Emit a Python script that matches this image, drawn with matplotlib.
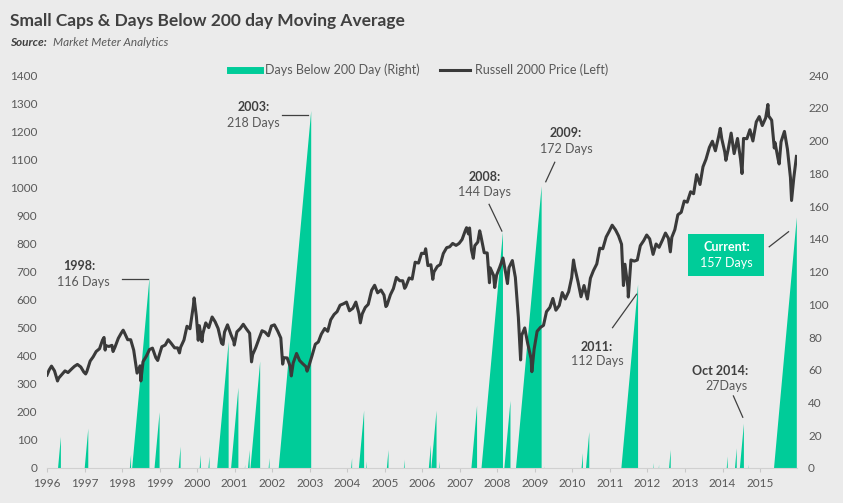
import matplotlib.pyplot as plt
from matplotlib.lines import Line2D

plt.rcParams['font.family'] = ['Lato', 'DejaVu Sans']

# Russell 2000 price (left axis), decimal year -> index level
price_dates = [
    1996.27, 1996.33, 1996.39, 1996.47, 1996.55, 1996.58, 1996.67, 1996.75, 1996.83, 1996.92,
    1997.00, 1997.08, 1997.17, 1997.25, 1997.30, 1997.33, 1997.42, 1997.50, 1997.58, 1997.67,
    1997.75, 1997.79, 1997.82, 1997.83, 1997.92, 1998.00, 1998.03, 1998.08, 1998.17, 1998.25,
    1998.30, 1998.33, 1998.42, 1998.50, 1998.58, 1998.67, 1998.75, 1998.77, 1998.83, 1998.92,
    1999.00, 1999.08, 1999.17, 1999.22, 1999.25, 1999.33, 1999.42, 1999.50, 1999.58, 1999.67,
    1999.75, 1999.80, 1999.83, 1999.92, 2000.00, 2000.08, 2000.17, 2000.19, 2000.25, 2000.30,
    2000.33, 2000.40, 2000.42, 2000.50, 2000.58, 2000.67, 2000.75, 2000.83, 2000.92, 2000.96,
    2001.00, 2001.08, 2001.17, 2001.25, 2001.26, 2001.33, 2001.42, 2001.50, 2001.58, 2001.67,
    2001.72, 2001.75, 2001.83, 2001.92, 2002.00, 2002.08, 2002.17, 2002.25, 2002.33, 2002.42,
    2002.50, 2002.55, 2002.58, 2002.67, 2002.75, 2002.78, 2002.83, 2002.92, 2003.00, 2003.08,
    2003.17, 2003.20, 2003.25, 2003.33, 2003.42, 2003.50, 2003.58, 2003.67, 2003.75, 2003.83,
    2003.92, 2004.00, 2004.08, 2004.17, 2004.25, 2004.33, 2004.42, 2004.50, 2004.58, 2004.62,
    2004.67, 2004.75, 2004.83, 2004.92, 2005.00, 2005.08, 2005.17, 2005.25, 2005.30, 2005.33,
    2005.42, 2005.50, 2005.58, 2005.67, 2005.75, 2005.80, 2005.83, 2005.92, 2006.00, 2006.08,
    2006.17, 2006.25, 2006.33, 2006.36, 2006.42, 2006.50, 2006.55, 2006.58, 2006.67, 2006.75,
    2006.83, 2006.92, 2007.00, 2007.08, 2007.17, 2007.25, 2007.33, 2007.42, 2007.45, 2007.50,
    2007.53, 2007.58, 2007.63, 2007.67, 2007.75, 2007.80, 2007.83, 2007.92, 2008.00, 2008.06,
    2008.08, 2008.17, 2008.20, 2008.25, 2008.33, 2008.42, 2008.50, 2008.54, 2008.58, 2008.67,
    2008.75, 2008.83, 2008.89, 2008.92, 2009.00, 2009.08, 2009.17, 2009.19, 2009.25, 2009.33,
    2009.42, 2009.50, 2009.58, 2009.67, 2009.75, 2009.83, 2009.92, 2010.00, 2010.08, 2010.17,
    2010.25, 2010.30, 2010.33, 2010.42, 2010.50, 2010.58, 2010.67, 2010.75, 2010.83, 2010.92,
    2011.00, 2011.08, 2011.17, 2011.25, 2011.33, 2011.42, 2011.50, 2011.58, 2011.63, 2011.67,
    2011.75, 2011.76, 2011.83, 2011.92, 2012.00, 2012.08, 2012.17, 2012.25, 2012.33, 2012.42,
    2012.50, 2012.58, 2012.67, 2012.75, 2012.83, 2012.88, 2012.92, 2013.00, 2013.08, 2013.17,
    2013.25, 2013.33, 2013.42, 2013.50, 2013.58, 2013.67, 2013.75, 2013.83, 2013.92, 2014.00,
    2014.08, 2014.17, 2014.21, 2014.25, 2014.33, 2014.36, 2014.42, 2014.50, 2014.58, 2014.67,
    2014.75, 2014.79, 2014.83, 2014.92, 2015.00, 2015.08, 2015.17, 2015.25, 2015.33, 2015.42,
    2015.48, 2015.50, 2015.58, 2015.65, 2015.67, 2015.75, 2015.78, 2015.83, 2015.92, 2016.00,
    2016.08, 2016.11, 2016.17, 2016.24,
]
price_values = [
    331, 350, 363, 346, 310, 320, 334, 346, 340, 352,
    362, 369, 360, 342, 335, 343, 381, 396, 415, 425,
    456, 465, 420, 436, 433, 437, 415, 430, 462, 481,
    491, 483, 457, 457, 420, 338, 364, 310, 379, 399,
    422, 427, 393, 383, 397, 432, 438, 457, 444, 428,
    428, 410, 430, 456, 505, 496, 578, 606, 540, 455,
    507, 450, 477, 517, 500, 538, 521, 497, 445, 440,
    484, 510, 476, 450, 438, 485, 497, 512, 496, 480,
    378, 404, 428, 461, 489, 484, 471, 506, 510, 487,
    463, 370, 393, 392, 362, 328, 374, 408, 383, 372,
    361, 345, 364, 399, 441, 449, 477, 497, 487, 528,
    547, 557, 580, 585, 591, 560, 569, 591, 552, 517,
    549, 572, 583, 633, 651, 624, 634, 616, 575, 580,
    617, 639, 679, 667, 667, 640, 646, 677, 673, 733,
    730, 765, 764, 781, 721, 724, 672, 698, 718, 725,
    764, 785, 788, 800, 793, 800, 814, 847, 856, 834,
    855, 777, 747, 792, 805, 845, 828, 767, 766, 660,
    713, 686, 643, 687, 714, 748, 689, 657, 714, 739,
    679, 537, 385, 473, 499, 443, 389, 343, 423, 487,
    501, 508, 557, 572, 604, 562, 579, 625, 602, 628,
    678, 741, 716, 663, 610, 650, 602, 676, 703, 727,
    783, 781, 823, 843, 865, 848, 827, 797, 650, 726,
    644, 609, 741, 737, 741, 792, 810, 830, 816, 761,
    798, 786, 812, 837, 818, 770, 822, 849, 902, 911,
    951, 947, 984, 977, 1045, 1010, 1073, 1100, 1142, 1164,
    1130, 1183, 1210, 1173, 1126, 1096, 1134, 1193, 1120, 1174,
    1101, 1049, 1174, 1173, 1205, 1165, 1233, 1252, 1220, 1247,
    1295, 1254, 1239, 1140, 1159, 1101, 1083, 1162, 1199, 1136,
    1035, 953, 1034, 1110,
]

# Days below the 200 day moving average (right axis): each run ends on a date with a count
run_end = [
    1996.64, 1997.37, 1998.51, 1999.00, 1999.27, 1999.83, 2000.37, 2000.60, 2001.11, 2001.37,
    2001.55, 2001.67, 2001.95, 2002.20, 2003.31, 2004.40, 2004.72, 2004.79, 2005.37, 2005.80,
    2006.50, 2006.65, 2006.73, 2007.73, 2008.42, 2008.62, 2009.45, 2009.54, 2010.55, 2010.72,
    2012.02, 2012.44, 2012.58, 2012.89, 2014.41, 2014.65, 2014.84, 2014.96, 2016.25,
]
run_days = [
    19, 24, 8, 116, 34, 13, 8, 7, 77, 49,
    2, 11, 65, 6, 218, 6, 35, 4, 11, 5,
    14, 35, 4, 38, 144, 41, 172, 1, 9, 22,
    112, 3, 2, 11, 7, 12, 27, 2, 153,
]

tick_years = list(range(1996, 2016))
trading_days = 252

bg = '#ebebeb'
green = '#00cc99'
dark = '#3a3a3a'
grey = '#595959'

fig = plt.figure(figsize=(8.43, 5.03), dpi=100, facecolor=bg)
ax = fig.add_axes([47 / 843, 35 / 503, 750 / 843, 393 / 503])
ax2 = ax.twinx()
ax.set_zorder(ax2.get_zorder() + 1)
ax.patch.set_visible(False)
ax2.set_facecolor(bg)

# green ramps, one per run below the 200 day average
for end, days in zip(run_end, run_days):
    start = end - days / trading_days
    ax2.fill([start, end, end], [0, days, 0], color=green, lw=0)

ax.plot(price_dates, price_values, color=dark, lw=2.2, solid_joinstyle='round')

x0 = 1996.27
ax.set_xlim(x0, 2016.255)
ax.set_ylim(0, 1400)
ax2.set_ylim(0, 240)
ax.set_yticks(range(0, 1401, 100))
ax2.set_yticks(range(0, 241, 20))
ax.set_xticks([y + (x0 - 1996) for y in tick_years])
ax.set_xticklabels([str(y) for y in tick_years])

for a in (ax, ax2):
    for s in a.spines.values():
        s.set_visible(False)
ax.spines['bottom'].set_visible(True)
ax.spines['bottom'].set_color('#d0d0d0')
ax.tick_params(axis='y', length=0, pad=7, labelsize=8.5, labelcolor=grey)
ax2.tick_params(axis='y', length=0, pad=8, labelsize=8.5, labelcolor=grey)
ax.tick_params(axis='x', length=3, color='#c8c8c8', pad=4, labelsize=8.5, labelcolor=grey)

# annotations
bold = dict(ha='center', va='center', fontsize=9, fontweight='bold', color='#404040')
norm = dict(ha='center', va='center', fontsize=9, color=grey)
line = dict(color='#404040', lw=0.9)

ax2.text(1997.135, 123.4, '1998:', **bold)
ax2.text(1997.24, 113.6, '116 Days', **norm)
ax2.plot([1998.27, 1998.97], [115.2, 115.2], **line)

ax2.text(2001.77, 220.3, '2003:', **bold)
ax2.text(2001.77, 210.9, '218 Days', **norm)
ax2.plot([2002.54, 2003.22], [215.6, 215.6], **line)

ax2.text(2007.93, 177.5, '2008:', **bold)
ax2.text(2007.93, 168.7, '144 Days', **norm)
ax2.plot([2008.05, 2008.39], [161.0, 144.7], **line)

ax2.text(2010.09, 204.4, '2009:', **bold)
ax2.text(2010.11, 194.8, '172 Days', **norm)
ax2.plot([2009.80, 2009.56], [186.7, 174.8], **line)

ax2.text(2010.91, 74.1, '2011:', **bold)
ax2.text(2010.93, 65.5, '112 Days', **norm)
ax2.plot([2011.34, 2011.98], [85.7, 106.1], **line)

ax2.text(2014.20, 59.4, 'Oct 2014:', **bold)
ax2.text(2014.38, 50.1, '27Days', **norm)
ax2.plot([2014.56, 2014.81], [44.0, 31.0], **line)

ax2.fill([2013.355, 2015.365, 2015.365, 2013.355], [117.4, 117.4, 142.9, 142.9], color=green, lw=0)
ax2.text(2014.38, 134.8, 'Current:', ha='center', va='center', fontsize=9, fontweight='bold', color='white')
ax2.text(2014.38, 125.4, '157 Days', ha='center', va='center', fontsize=9, color='white')
ax2.plot([2015.515, 2016.03], [135.1, 144.3], **line)

# title, source, legend
fig.text(10 / 843, 1 - 21 / 503, 'Small Caps & Days Below 200 day Moving Average',
         fontsize=12.5, fontweight='bold', color='#404040', va='center')
fig.text(10 / 843, 1 - 43 / 503, 'Source:', fontsize=8.5, fontweight='bold', style='italic',
         color='#404040', va='center')
fig.text(53 / 843, 1 - 43 / 503, 'Market Meter Analytics', fontsize=8.5, style='italic',
         color=grey, va='center')

handles = [Line2D([], [], color=green, lw=5), Line2D([], [], color=dark, lw=2.2)]
fig.legend(handles, ['Days Below 200 Day (Right)', 'Russell 2000 Price (Left)'],
           loc='center', bbox_to_anchor=(419 / 843, 1 - 70 / 503), ncol=2, frameon=False,
           fontsize=9, labelcolor=grey, handlelength=2.4, handletextpad=0.4, columnspacing=1.6)

fig.savefig('out.png', dpi=100, facecolor=bg)
